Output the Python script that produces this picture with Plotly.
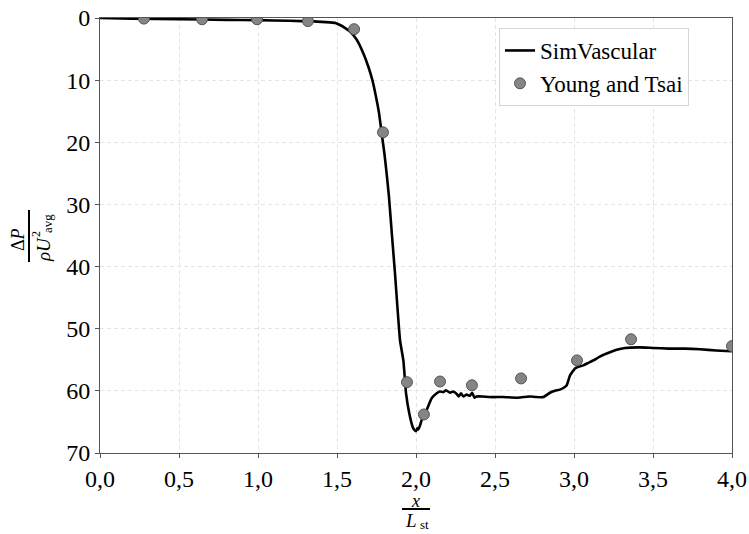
import plotly.graph_objects as go

# SimVascular curve
sim_x = [0.0, 0.2, 0.5, 0.8, 1.0, 1.2, 1.35, 1.456, 1.49, 1.519, 1.55, 1.582, 1.625, 1.667, 1.698,
         1.724, 1.747, 1.766, 1.783, 1.80, 1.814, 1.829, 1.848, 1.867, 1.899, 1.92, 1.937, 1.958, 1.979,
         1.99, 2.0, 2.01, 2.015, 2.025, 2.036, 2.067, 2.099, 2.131, 2.15, 2.173, 2.19, 2.215, 2.235,
         2.258, 2.27, 2.285, 2.30, 2.32, 2.342, 2.355, 2.37, 2.384, 2.42, 2.468, 2.55, 2.637, 2.68,
         2.722, 2.76, 2.806, 2.848, 2.88, 2.911, 2.935, 2.954, 2.975, 3.006, 3.03, 3.059, 3.09, 3.122,
         3.17, 3.228, 3.27, 3.323, 3.418, 3.5, 3.6, 3.7, 3.797, 3.9, 4.0]
sim_y = [0.0, 0.1, 0.2, 0.3, 0.35, 0.45, 0.55, 0.7, 0.8, 1.13, 1.6, 2.2, 3.5, 5.7, 7.8,
         10.0, 12.7, 15.3, 18.6, 21.8, 25.0, 28.8, 35.0, 41.1, 51.9, 55.1, 60.4, 63.7, 65.8,
         66.3, 66.5, 66.0, 66.2, 65.6, 64.7, 63.1, 61.2, 60.4, 60.1, 60.2, 59.9, 60.3, 60.1,
         60.5, 60.9, 60.4, 60.9, 60.6, 60.8, 60.3, 61.1, 60.9, 60.9, 61.0, 61.0, 61.1, 61.0,
         60.9, 61.0, 61.0, 60.3, 60.0, 59.8, 59.5, 59.1, 57.5, 56.4, 56.1, 55.9, 55.5, 55.1,
         54.4, 53.8, 53.4, 53.1, 53.0, 53.1, 53.2, 53.2, 53.3, 53.5, 53.6]

# Young and Tsai experimental points
exp_x = [0.278, 0.646, 0.994, 1.316, 1.608, 1.791, 1.943, 2.05, 2.152, 2.354, 2.665, 3.019, 3.361, 4.0]
exp_y = [0.1, 0.2, 0.2, 0.5, 1.8, 18.4, 58.6, 63.8, 58.5, 59.1, 58.0, 55.1, 51.7, 52.8]

x_ticks = [0.0, 0.5, 1.0, 1.5, 2.0, 2.5, 3.0, 3.5, 4.0]
x_ticktext = ["0,0", "0,5", "1,0", "1,5", "2,0", "2,5", "3,0", "3,5", "4,0"]
y_ticks = [0, 10, 20, 30, 40, 50, 60, 70]

FONT = "Liberation Serif"
W, H = 749, 534
L, R, T, B = 100, 732, 18, 453


def px(xp, yp):
    return (xp - L) / (R - L), (B - yp) / (B - T)


fig = go.Figure()
fig.add_trace(go.Scatter(x=sim_x, y=sim_y, mode="lines", name="SimVascular",
                         line=dict(color="black", width=2.6, shape="spline", smoothing=0.4)))
fig.add_trace(go.Scatter(x=exp_x, y=exp_y, mode="markers", name="Young and Tsai",
                         marker=dict(size=11, color="#858585", line=dict(color="#555555", width=1))))

grid = dict(showgrid=True, gridcolor="#e4e4e4", griddash="4px,3px", gridwidth=1)
axis_common = dict(ticks="outside", ticklen=4, tickcolor="#555", showline=True, linecolor="#555",
                   linewidth=1, mirror=True, zeroline=False, automargin=False,
                   tickfont=dict(family=FONT, size=24, color="black"), **grid)
fig.update_xaxes(range=[0, 4], tickvals=x_ticks, ticktext=x_ticktext, **axis_common)
fig.update_yaxes(range=[70, 0], tickvals=y_ticks, **axis_common)

ann = []
def add_text(text, xp, yp, size, angle=0):
    x, y = px(xp, yp)
    ann.append(dict(text=text, x=x, y=y, xref="paper", yref="paper", showarrow=False,
                    xanchor="center", yanchor="middle", textangle=angle,
                    font=dict(family=FONT, size=size, color="black")))

# x-axis title fraction
add_text("<i>x</i>", 415, 501, 18)
add_text("<i>L</i>", 411, 520, 19)
add_text("st", 424, 524, 13)
# y-axis title fraction (rotated)
add_text("Δ<i>P</i>", 18, 240, 18, -90)
add_text("<i>ρU</i>", 43, 250, 19, -90)
add_text("2", 36, 234, 12, -90)
add_text("avg", 47, 224, 13, -90)

shapes = []
x0, y0 = px(402, 509); x1, y1 = px(430, 509)
shapes.append(dict(type="line", xref="paper", yref="paper", x0=x0, y0=y0, x1=x1, y1=y1,
                   line=dict(color="black", width=2)))
x0, y0 = px(29, 210); x1, y1 = px(29, 262)
shapes.append(dict(type="line", xref="paper", yref="paper", x0=x0, y0=y0, x1=x1, y1=y1,
                   line=dict(color="black", width=2)))

lx, ly = px(499, 28)
fig.update_layout(
    width=W, height=H,
    margin=dict(l=L, r=W - R, t=T, b=H - B),
    plot_bgcolor="white", paper_bgcolor="white",
    font=dict(family=FONT, color="black"),
    annotations=ann, shapes=shapes,
    legend=dict(x=lx, y=ly, xanchor="left", yanchor="top", bgcolor="rgba(255,255,255,0.85)",
                bordercolor="#d6d6d6", borderwidth=1, font=dict(family=FONT, size=23)),
)

fig.write_html("out.html", config={"displayModeBar": False},
               post_script="document.body.style.margin='0';document.body.style.overflow='hidden';")
